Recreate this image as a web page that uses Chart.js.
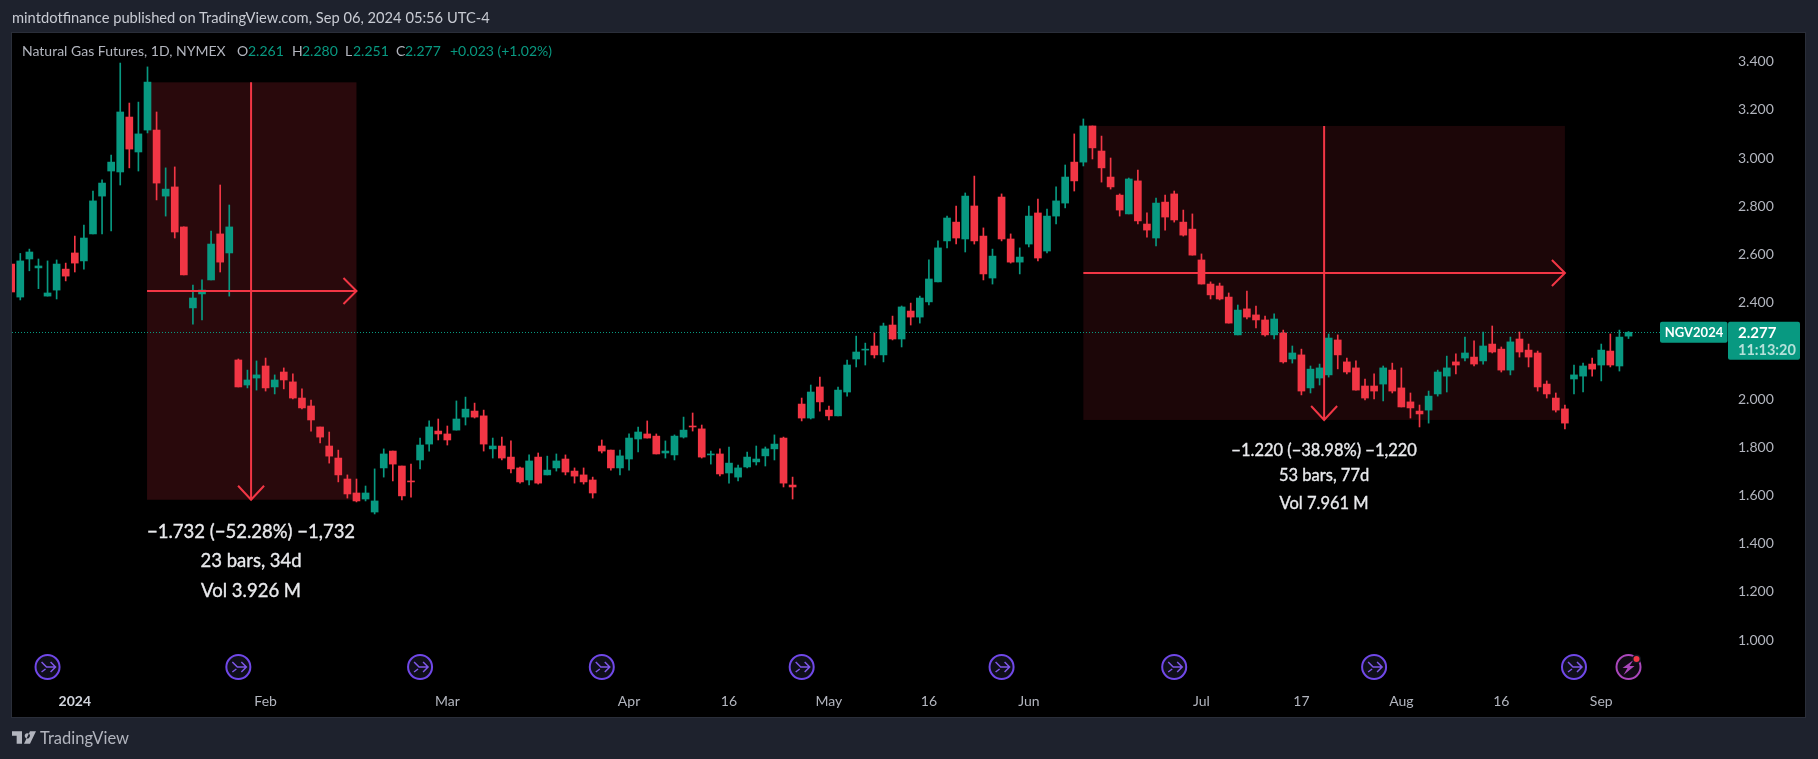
<!DOCTYPE html>
<html><head><meta charset="utf-8">
<script src="https://cdn.jsdelivr.net/npm/chart.js@4/dist/chart.umd.min.js"></script>
<style>
html,body{margin:0;padding:0;background:#1e222d;width:1818px;height:759px;overflow:hidden}
#c{position:absolute;left:0;top:0}
.t{position:absolute;white-space:pre;font-family:Lato,sans-serif;line-height:1}
#head{left:12px;top:10px;font-size:14.7px;color:#c8cbd3}
.lg{top:44px;font-size:14px}
.lb{color:#b2b5be}.lv{color:#089981}
#tv{left:40px;top:730px;font-size:16.5px;color:#b2b5be}
#logo{position:absolute;left:12px;top:731px}
</style></head><body>
<canvas id="c" width="1818" height="759"></canvas>
<div class="t" id="head">mintdotfinance published on TradingView.com, Sep 06, 2024 05:56 UTC-4</div>
<div class="t lg lb" style="left:22px">Natural Gas Futures, 1D, NYMEX</div>
<div class="t lg lb" style="left:237px">O</div><div class="t lg lv" style="left:248px">2.261</div>
<div class="t lg lb" style="left:292px">H</div><div class="t lg lv" style="left:302px">2.280</div>
<div class="t lg lb" style="left:345px">L</div><div class="t lg lv" style="left:353px">2.251</div>
<div class="t lg lb" style="left:396px">C</div><div class="t lg lv" style="left:405px">2.277</div>
<div class="t lg lv" style="left:450px">+0.023 (+1.02%)</div>
<svg id="logo" width="24" height="13" viewBox="0 0 36 19"><path fill="#b2b5be" d="M0 0h15v19H7V7H0zM19 7a4 4 0 1 0 0-.01zM27 0h9l-9 19h-9z"/></svg>
<div class="t" id="tv">TradingView</div>
<script>
const highs=[2.560,2.604,2.622,2.581,2.573,2.577,2.564,2.676,2.722,2.863,
2.909,3.012,3.394,3.228,3.232,3.378,3.191,2.959,2.963,2.714,
2.473,2.494,2.697,2.888,2.805,2.166,2.120,2.158,2.170,2.100,
2.129,2.104,2.042,1.996,1.884,1.863,1.788,1.685,1.668,1.639,
1.710,1.793,1.784,1.722,1.730,1.838,1.909,1.917,1.888,1.992,
2.008,1.983,1.954,1.838,1.842,1.826,1.718,1.768,1.776,1.763,
1.772,1.768,1.714,1.714,1.676,1.830,1.788,1.788,1.855,1.884,
1.909,1.855,1.826,1.851,1.925,1.942,1.892,1.784,1.793,1.801,
1.726,1.780,1.805,1.801,1.851,1.842,1.676,2.004,2.058,2.091,
1.971,2.050,2.162,2.261,2.232,2.274,2.315,2.344,2.386,2.398,
2.427,2.577,2.656,2.759,2.801,2.855,2.925,2.710,2.622,2.851,
2.685,2.627,2.801,2.830,2.788,2.880,2.971,3.100,3.162,3.133,
3.091,3.000,2.851,2.917,2.950,2.772,2.834,2.846,2.863,2.784,
2.768,2.602,2.486,2.481,2.440,2.390,2.448,2.386,2.344,2.353,
2.286,2.220,2.207,2.137,2.145,2.270,2.266,2.170,2.158,2.083,
2.104,2.137,2.149,2.129,2.025,1.975,2.033,2.120,2.178,2.187,
2.257,2.241,2.278,2.303,2.216,2.257,2.278,2.228,2.199,2.075,
2.025,1.975,2.141,2.149,2.170,2.228,2.270,2.286,2.280];
const lows=[2.444,2.411,2.532,2.458,2.427,2.415,2.490,2.527,2.539,2.685,
2.685,2.697,2.888,2.959,2.946,3.104,2.826,2.759,2.668,2.515,
2.311,2.328,2.494,2.527,2.427,2.050,2.046,2.037,2.033,2.021,
2.042,2.000,1.959,1.867,1.818,1.734,1.656,1.589,1.573,1.577,
1.523,1.676,1.660,1.581,1.593,1.710,1.784,1.830,1.809,1.871,
1.892,1.921,1.784,1.755,1.747,1.693,1.651,1.643,1.647,1.685,
1.701,1.685,1.651,1.647,1.589,1.776,1.705,1.685,1.705,1.780,
1.838,1.772,1.755,1.747,1.838,1.867,1.755,1.730,1.681,1.651,
1.660,1.714,1.726,1.722,1.747,1.635,1.585,1.909,1.917,1.950,
1.913,1.930,2.012,2.133,2.141,2.170,2.154,2.245,2.216,2.307,
2.315,2.390,2.486,2.627,2.643,2.610,2.643,2.494,2.477,2.656,
2.564,2.519,2.631,2.573,2.606,2.726,2.793,2.863,2.967,2.996,
2.900,2.871,2.759,2.768,2.726,2.672,2.635,2.701,2.734,2.676,
2.597,2.477,2.415,2.411,2.315,2.266,2.332,2.295,2.261,2.249,
2.149,2.149,2.017,2.025,2.058,2.091,2.125,2.104,2.037,1.996,
2.000,1.992,2.025,1.967,1.921,1.884,1.900,2.012,2.029,2.104,
2.158,2.137,2.145,2.191,2.112,2.100,2.174,2.133,2.033,2.004,
1.946,1.876,2.021,2.029,2.095,2.075,2.133,2.116,2.251];
const opens=[2.560,2.423,2.581,2.544,2.427,2.452,2.539,2.606,2.573,2.685,
2.842,2.946,2.942,3.170,3.025,3.116,3.116,2.842,2.880,2.714,
2.378,2.436,2.494,2.685,2.606,2.162,2.058,2.087,2.137,2.050,
2.112,2.071,2.004,1.971,1.884,1.805,1.755,1.668,1.610,1.585,
1.531,1.714,1.784,1.722,1.660,1.747,1.813,1.867,1.855,1.871,
1.925,1.950,1.930,1.793,1.805,1.759,1.714,1.664,1.759,1.685,
1.714,1.751,1.701,1.685,1.664,1.805,1.788,1.714,1.751,1.834,
1.855,1.846,1.776,1.768,1.842,1.888,1.876,1.768,1.772,1.693,
1.676,1.718,1.739,1.764,1.793,1.838,1.643,1.979,1.921,2.050,
1.954,1.930,2.029,2.166,2.203,2.220,2.183,2.307,2.249,2.365,
2.340,2.403,2.486,2.656,2.734,2.664,2.801,2.676,2.502,2.838,
2.664,2.568,2.643,2.772,2.614,2.759,2.813,2.983,2.983,3.133,
3.029,2.921,2.846,2.768,2.905,2.726,2.668,2.817,2.851,2.734,
2.705,2.577,2.477,2.469,2.423,2.266,2.374,2.349,2.328,2.266,
2.274,2.166,2.183,2.046,2.087,2.100,2.245,2.154,2.129,2.054,
2.054,2.062,2.120,2.046,1.988,1.950,1.954,2.021,2.095,2.154,
2.170,2.174,2.158,2.228,2.207,2.120,2.249,2.203,2.191,2.062,
2.004,1.959,2.083,2.095,2.145,2.141,2.199,2.137,2.261];
const closes=[2.444,2.573,2.610,2.552,2.440,2.560,2.510,2.564,2.668,2.822,
2.896,2.983,3.191,3.037,3.100,3.315,2.896,2.871,2.693,2.515,
2.419,2.452,2.643,2.568,2.714,2.050,2.079,2.100,2.046,2.079,
2.079,2.004,1.963,1.913,1.842,1.763,1.685,1.606,1.577,1.610,
1.577,1.772,1.730,1.598,1.656,1.809,1.884,1.855,1.830,1.917,
1.958,1.925,1.813,1.805,1.755,1.710,1.656,1.743,1.651,1.705,
1.743,1.697,1.680,1.656,1.610,1.784,1.714,1.764,1.838,1.863,
1.838,1.772,1.784,1.846,1.871,1.884,1.759,1.772,1.689,1.734,
1.714,1.759,1.751,1.793,1.813,1.651,1.635,1.921,2.029,1.988,
1.930,2.037,2.141,2.195,2.207,2.183,2.303,2.249,2.382,2.340,
2.419,2.498,2.627,2.751,2.668,2.842,2.656,2.519,2.593,2.664,
2.568,2.589,2.759,2.585,2.759,2.822,2.921,2.905,3.133,3.042,
2.959,2.880,2.784,2.913,2.739,2.701,2.813,2.755,2.743,2.680,
2.597,2.477,2.432,2.415,2.315,2.369,2.340,2.328,2.266,2.332,
2.154,2.191,2.033,2.124,2.129,2.253,2.183,2.112,2.037,2.004,
2.033,2.129,2.033,1.967,1.963,1.938,2.012,2.112,2.129,2.141,
2.191,2.145,2.220,2.195,2.120,2.237,2.195,2.174,2.050,2.021,
1.954,1.900,2.100,2.137,2.124,2.203,2.141,2.257,2.277];
const timeTickBars=[7,28,48,68,79,90,101,112,131,142,153,164,175];
const timeTickLabels=["2024","Feb","Mar","Apr","16","May","16","Jun","Jul","17","Aug","16","Sep"];
const priceTicks=[1.0,1.2,1.4,1.6,1.8,2.0,2.2,2.4,2.6,2.8,3.0,3.2,3.4];
const rollBars=[4,25,45,65,87,109,128,150,172];
const dividendBar=178;
const contractName="NGV2024", lastPrice=2.277, countdown="11:13:20";
const measureFrom=[14.95,118], measureTo=[38,171], measureMid=[26.4,144.5], measureHigh=[3.314,3.133], measureLow=[1.582,1.913];
const measureFills=["rgba(242,54,69,0.17)","rgba(242,54,69,0.115)"];
const measureText=[["−1.732 (−52.28%) −1,732","23 bars, 34d","Vol 3.926 M"],["−1.220 (−38.98%) −1,220","53 bars, 77d","Vol 7.961 M"]];

const UP="#089981", DOWN="#f23645", FONT="Lato, sans-serif";
const colors=closes.map((c,i)=>c>=opens[i]?UP:DOWN);
const wickData=highs.map((h,i)=>({x:i,y:[lows[i],h]}));
const bodyData=opens.map((o,i)=>({x:i,y:[Math.min(o,closes[i]),Math.max(o,closes[i])]}));

const panePlugin={id:"pane",
 beforeDraw(ch){const c=ch.ctx;c.save();c.fillStyle="#1e222d";c.fillRect(0,0,1818,759);
  c.fillStyle="#000";c.fillRect(12,33,1793,684);
  c.strokeStyle="#2a2e39";c.lineWidth=1;c.strokeRect(11.5,32.5,1794,685);c.restore();},
 beforeDatasetsDraw(ch){const c=ch.ctx,x=ch.scales.x,y=ch.scales.y;c.save();
  measureFrom.forEach((b,k)=>{c.fillStyle=measureFills[k];
   const l=x.getPixelForValue(b),r=x.getPixelForValue(measureTo[k]),t=y.getPixelForValue(measureHigh[k]),d=y.getPixelForValue(measureLow[k]);
   c.fillRect(l,t,r-l,d-t);});
  const py=Math.round(y.getPixelForValue(lastPrice))+.5;
  c.strokeStyle=UP;c.lineWidth=1;c.setLineDash([1,2]);c.beginPath();c.moveTo(12,py);c.lineTo(1660,py);c.stroke();c.restore();},
 afterDatasetsDraw(ch){const c=ch.ctx,x=ch.scales.x,y=ch.scales.y;c.save();
  measureFrom.forEach((b,k)=>{
   const l=x.getPixelForValue(b),r=x.getPixelForValue(measureTo[k]),t=y.getPixelForValue(measureHigh[k]),d=y.getPixelForValue(measureLow[k]);
   const m=x.getPixelForValue(measureMid[k]),mid=(t+d)/2;
   c.strokeStyle=DOWN;c.lineWidth=2;c.lineJoin="miter";
   c.beginPath();c.moveTo(l,mid);c.lineTo(r,mid);c.moveTo(r-13,mid-13);c.lineTo(r,mid);c.lineTo(r-13,mid+13);
   c.moveTo(m,t);c.lineTo(m,d);c.moveTo(m-13,d-14);c.lineTo(m,d);c.lineTo(m+13,d-14);c.stroke();
   const big=k===0;
   c.fillStyle="#e8e9ec";c.strokeStyle="#e8e9ec";c.lineWidth=.35;c.textAlign="center";c.textBaseline="middle";
   c.font=(big?"18.5px ":"16.5px ")+FONT;
   const off=big?[32,61,91]:[31,56,84];
   measureText[k].forEach((s,i)=>{c.fillText(s,m,d+off[i]);c.strokeText(s,m,d+off[i]);});
  });
  const iy=667;
  rollBars.forEach(b=>{const cx=x.getPixelForValue(b);
   c.beginPath();c.arc(cx,iy,12,0,Math.PI*2);c.fillStyle="#0f0f1a";c.fill();
   c.strokeStyle="#7048e8";c.lineWidth=2;c.stroke();
   c.strokeStyle="#7e57e8";c.lineWidth=1.5;c.beginPath();
   c.moveTo(cx-6,iy-5);c.lineTo(cx-1,iy);c.lineTo(cx+8,iy);
   c.moveTo(cx+3,iy-5);c.lineTo(cx+8,iy);c.lineTo(cx+3,iy+5);
   c.moveTo(cx-6,iy+5);c.lineTo(cx-2,iy+2);c.stroke();});
  const dx=x.getPixelForValue(dividendBar);
  c.beginPath();c.arc(dx,iy,12,0,Math.PI*2);c.fillStyle="#100a14";c.fill();c.strokeStyle="#ab47bc";c.lineWidth=2;c.stroke();
  c.fillStyle="#ab47bc";c.beginPath();c.moveTo(dx+5,iy-7);c.lineTo(dx-6,iy+1);c.lineTo(dx-1,iy+1);c.lineTo(dx-5,iy+8);c.lineTo(dx+6,iy-1);c.lineTo(dx+1,iy-1);c.closePath();c.fill();
  c.beginPath();c.arc(dx+8,iy-8,4.5,0,Math.PI*2);c.fillStyle="#131722";c.fill();
  c.beginPath();c.arc(dx+8,iy-8,3,0,Math.PI*2);c.fillStyle="#f23645";c.fill();
  const py=y.getPixelForValue(lastPrice);
  c.fillStyle=UP;
  c.beginPath();c.roundRect(1660,py-10.5,67.5,21,2);c.fill();
  c.beginPath();c.roundRect(1728,py-10.5,72,38,2);c.fill();
  c.fillStyle="#fff";c.textBaseline="middle";c.textAlign="center";c.font="bold 13px "+FONT;c.fillText(contractName,1694,py+1);
  c.textAlign="left";c.font="bold 15px "+FONT;c.fillText(String(lastPrice.toFixed(3)),1738,py+1);
  c.fillStyle="rgba(255,255,255,.7)";c.font="bold 14.5px "+FONT;c.fillText(countdown,1738,py+18);
  c.restore();}
};

new Chart(document.getElementById("c"),{type:"bar",
 data:{datasets:[
  {label:"High-Low",data:wickData,backgroundColor:colors,barThickness:1,grouped:false},
  {label:"Open-Close",data:bodyData,backgroundColor:colors,barThickness:7,grouped:false}]},
 plugins:[panePlugin],
 options:{responsive:false,animation:false,devicePixelRatio:1,events:[],
  layout:{padding:{left:12,top:33,right:13,bottom:42}},
  plugins:{legend:{display:false},tooltip:{enabled:false},title:{display:false}},
  scales:{
   x:{type:"linear",min:0.088,max:188.95,offset:false,border:{display:false},grid:{display:false,offset:false,drawTicks:false},
    afterFit(s){s.height=32;},
    afterBuildTicks(s){s.ticks=timeTickBars.map(v=>({value:v}));},
    ticks:{autoSkip:false,maxRotation:0,padding:8,callback:v=>timeTickLabels[timeTickBars.indexOf(v)],
     font:c=>({family:FONT,size:14,weight:c.index===0?"bold":"normal"}),color:c=>c.index===0?"#d1d4dc":"#b2b5be"}},
   y:{type:"linear",position:"right",min:0.8133,max:3.5187,border:{display:false},grid:{display:false,drawTicks:false},
    afterFit(s){s.width=77;},
    afterBuildTicks(s){s.ticks=priceTicks.map(v=>({value:v}));},
    ticks:{padding:10,crossAlign:"near",callback:v=>v.toFixed(3),font:{family:FONT,size:14},color:"#b2b5be"}}
  }}});
</script></body></html>
